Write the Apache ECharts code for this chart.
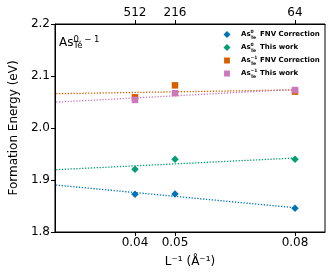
<!DOCTYPE html>
<html><head><meta charset="utf-8">
<script src="https://cdn.jsdelivr.net/npm/echarts@6/dist/echarts.min.js"></script>
<style>html,body{margin:0;padding:0;background:#fff}#c{width:333px;height:273px}</style>
</head><body><div id="c"></div>
<script>
// data
const invL = [0.04, 0.05, 0.08];
const supercellAtoms = ['512', '216', '64'];
const fnvNeutral = [1.8725, 1.873, 1.8456];
const thisWorkNeutral = [1.9205, 1.940, 1.940];
const fnvMinus = [2.059, 2.082, 2.070];
const thisWorkMinus = [2.054, 2.067, 2.073];
const seriesNames = ['fnv0', 'tw0', 'fnvm', 'twm'];
const seriesLabels = [
  '{g| }{b|As}{sp|0}{sb|Te}{b| FNV Correction}',
  '{g| }{b|As}{sp|0}{sb|Te}{b| This work}',
  '{g| }{b|As}{sp|−1}{sb|Te}{b| FNV Correction}',
  '{g| }{b|As}{sp|−1}{sb|Te}{b| This work}'
];
const colors = ['#0173b2', '#029e73', '#d55e00', '#cc78bc'];
const symbols = ['diamond', 'diamond', 'rect', 'rect'];
const allY = [fnvNeutral, thisWorkNeutral, fnvMinus, thisWorkMinus];

const FONT = 'DejaVu Sans';
const legendSquare = 'path://M0,0L0.01,0L0,0.01ZM0.6,0.6H6.4V6.4H0.6ZM7,7L6.99,7L7,6.99Z';
function fit(xs, ys) {
  const n = xs.length;
  const mx = xs.reduce((a, b) => a + b, 0) / n;
  const my = ys.reduce((a, b) => a + b, 0) / n;
  let sxy = 0, sxx = 0;
  for (let i = 0; i < n; i++) { sxy += (xs[i] - mx) * (ys[i] - my); sxx += (xs[i] - mx) ** 2; }
  const k = sxy / sxx;
  return x => my + k * (x - mx);
}
const series = [];
allY.forEach((ys, i) => {
  const f = fit(invL, ys);
  series.push({
    type: 'line', data: [[0, f(0)], [invL[2], f(invL[2])]], symbol: 'none', silent: true,
    lineStyle: { color: colors[i], width: 1.3, type: [1.3, 1.6] }, z: 1, clip: true
  });
});
allY.forEach((ys, i) => {
  series.push({
    name: seriesNames[i], type: 'scatter', symbol: symbols[i],
    symbolSize: symbols[i] === 'diamond' ? [7.5, 7.5] : 6.5,
    itemStyle: { color: colors[i], opacity: 1 }, z: 3,
    data: invL.map((x, j) => [x, ys[j]])
  });
});
const chart = echarts.init(document.getElementById('c'));
chart.setOption({
  animation: false,
  backgroundColor: '#fff',
  grid: { left: 46, right: 8, top: 24, bottom: 41, show: true, borderColor: '#000', borderWidth: 1 },
  xAxis: [{
    type: 'value', min: 0.02, max: 0.0875,
    axisLine: { lineStyle: { color: '#000', width: 1 } },
    axisTick: { customValues: invL, length: 4, lineStyle: { color: '#000' } },
    axisLabel: { customValues: invL, formatter: v => v.toFixed(2), color: '#000', fontSize: 12, fontFamily: FONT, margin: 5 },
    splitLine: { show: false },
    name: 'L⁻¹ (Å⁻¹)', nameLocation: 'middle', nameGap: 24,
    nameTextStyle: { color: '#000', fontSize: 12, fontFamily: FONT }
  }, {
    type: 'value', position: 'top', min: 0.02, max: 0.0875,
    axisLine: { lineStyle: { color: '#000', width: 1 } },
    axisTick: { customValues: invL, length: 4, lineStyle: { color: '#000' } },
    axisLabel: { customValues: invL, formatter: v => { const i = invL.findIndex(x => Math.abs(x - v) < 1e-9); return i >= 0 ? supercellAtoms[i] : ''; }, color: '#000', fontSize: 12, fontFamily: FONT, margin: 5 },
    splitLine: { show: false }
  }],
  yAxis: {
    type: 'value', min: 1.8, max: 2.2, interval: 0.1,
    axisLine: { show: true, lineStyle: { color: '#000', width: 1 } },
    axisTick: { show: true, length: 4, lineStyle: { color: '#000' } },
    axisLabel: { formatter: v => v.toFixed(1), color: '#000', fontSize: 12, fontFamily: FONT, margin: 5 },
    splitLine: { show: false },
    name: 'Formation Energy (eV)', nameLocation: 'middle', nameGap: 29,
    nameTextStyle: { color: '#000', fontSize: 12, fontFamily: FONT }
  },
  legend: {
    orient: 'vertical', left: 218.5, top: 24, itemWidth: 7, itemHeight: 7, itemGap: 2,
    data: seriesNames.map((n, i) => ({ name: n, icon: symbols[i] === 'diamond' ? 'diamond' : legendSquare })),
    formatter: n => seriesLabels[seriesNames.indexOf(n)],
    textStyle: {
      color: '#000', fontFamily: FONT, fontWeight: 'bold', fontSize: 7,
      rich: {
        g: { fontSize: 7, lineHeight: 11, width: 5.5 },
        b: { fontSize: 7, fontWeight: 'bold', fontFamily: FONT, lineHeight: 11, verticalAlign: 'middle' },
        sp: { fontSize: 4.5, fontWeight: 'bold', fontFamily: FONT, lineHeight: 5, verticalAlign: 'top', width: 0 },
        sb: { fontSize: 4.5, fontWeight: 'bold', fontFamily: FONT, lineHeight: 5, verticalAlign: 'bottom', width: 7 }
      }
    }
  },
  graphic: [{
    type: 'text', left: 59, top: 35, z: 10,
    style: {
      text: '{a|As}{sp|0, − 1}{sb|Te}', fill: '#000',
      rich: {
        a: { fontSize: 12, fontFamily: FONT, lineHeight: 15, verticalAlign: 'middle' },
        sp: { fontSize: 8.5, fontFamily: FONT, lineHeight: 5, verticalAlign: 'top', width: 0 },
        sb: { fontSize: 8.5, fontFamily: FONT, lineHeight: 8, verticalAlign: 'bottom' }
      }
    }
  }],
  series
});
</script></body></html>
